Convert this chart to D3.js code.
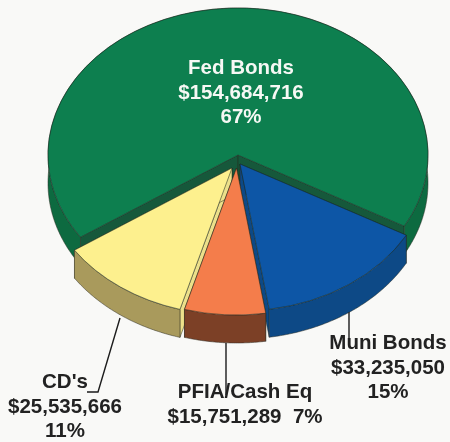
<!DOCTYPE html>
<html>
<head>
<meta charset="utf-8">
<script src="https://d3js.org/d3.v7.min.js"></script>
<style>
  html, body { margin: 0; padding: 0; background: #f9f9f7; }
  text { font-family: "Liberation Sans", Arial, sans-serif; font-weight: bold; font-size: 20.5px; text-anchor: middle; white-space: pre; }
</style>
</head>
<body>
<div class="chart"></div>
<script>
// chart values
var categories = ["Fed Bonds", "Muni Bonds", "PFIA/Cash Eq", "CD's"];
var amounts = [154684716, 33235050, 15751289, 25535666];
var amountLabels = ["$154,684,716", "$33,235,050", "$15,751,289", "$25,535,666"];
var percentLabels = ["67%", "15%", "7%", "11%"];
var topColors = ["#0b7f50", "#0a56a6", "#f47d4b", "#fdf08e"];
var wallColors = ["#0e6a41", "#0c4a86", "#7c4028", "#a99a5c"];
var cutColors = ["#12593a", "#0c4a86", "#7c4028", "#ece08a"];

var width = 450, height = 442;
var rx = 190, ry = 147, depth = 28;

// where each slice sits after being pulled out of the pie
var centers = [[238, 155], [240, 164], [236.5, 168], [232, 168]];

var svg = d3.select(".chart")
  .append("svg")
    .attr("width", width)
    .attr("height", height)
    .style("display", "block");

var defs = svg.append("defs");
defs.append("filter").attr("id", "soft")
  .append("feGaussianBlur").attr("stdDeviation", 0.45);

var chart = svg.append("g").attr("filter", "url(#soft)");

// green starts at the left side and goes over the top
var start = 236 * Math.PI / 180;
var pie = d3.pie().sort(null).startAngle(start).endAngle(start + 2 * Math.PI);
var slices = pie(amounts);

var arc = d3.arc().innerRadius(0).outerRadius(rx);

function px(a) { return rx * Math.sin(a); }
function py(a) { return -ry * Math.cos(a); }

var wall = d3.area()
  .x(function(a) { return px(a); })
  .y0(function(a) { return py(a); })
  .y1(function(a) { return py(a) + depth; });

// draw order back to front
[0, 3, 1, 2].forEach(function(i) {
  var s = slices[i];
  var g = chart.append("g")
    .attr("transform", "translate(" + centers[i][0] + "," + centers[i][1] + ")");

  // flat faces where the slice was cut
  [s.startAngle, s.endAngle].forEach(function(a) {
    var p = d3.path();
    p.moveTo(0, 0);
    p.lineTo(px(a), py(a));
    p.lineTo(px(a), py(a) + depth);
    p.lineTo(0, depth);
    p.closePath();
    g.append("path")
      .attr("d", p.toString())
      .attr("fill", cutColors[i])
      .attr("stroke", "#2a2a20")
      .attr("stroke-width", 0.5);
  });

  // outer rim
  g.append("path")
    .attr("d", wall(d3.range(s.startAngle, s.endAngle, 0.01).concat([s.endAngle])))
    .attr("fill", wallColors[i])
    .attr("stroke", "#2a2a20")
    .attr("stroke-width", 0.5);

  // top of the slice
  g.append("g")
    .attr("transform", "scale(1," + (ry / rx) + ")")
    .append("path")
      .attr("d", arc(s))
      .attr("fill", topColors[i])
      .attr("stroke", "#1c2a20")
      .attr("stroke-width", 0.6);
});

// leader lines
var line = d3.line();
var leaders = [
  [[349, 312], [349, 340]],
  [[226, 343], [226, 395]],
  [[120, 318], [98, 392], [87, 392]]
];
leaders.forEach(function(l) {
  chart.append("path")
    .attr("d", line(l))
    .attr("fill", "none")
    .attr("stroke", "#1c1c1c")
    .attr("stroke-width", 1.4);
});

// labels
function label(x, y, txt, color) {
  chart.append("text").attr("x", x).attr("y", y).attr("fill", color).text(txt);
}
label(241, 74, categories[0], "#f6f8f4");
label(241, 98.5, amountLabels[0], "#f6f8f4");
label(241, 123, percentLabels[0], "#f6f8f4");

label(388, 349, categories[1], "#222");
label(388, 373.5, amountLabels[1], "#222");
label(388, 398, percentLabels[1], "#222");

label(245, 398, categories[2], "#222");
label(245, 423, amountLabels[2] + "  " + percentLabels[2], "#222");

label(65, 388, categories[3], "#222");
label(65, 413, amountLabels[3], "#222");
label(65, 437, percentLabels[3], "#222");
</script>
</body>
</html>
